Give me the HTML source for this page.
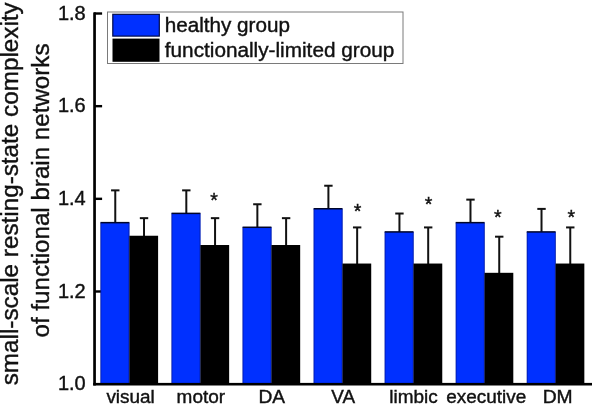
<!DOCTYPE html>
<html><head><meta charset="utf-8"><title>chart</title>
<style>
html,body{margin:0;padding:0;background:#fff;}
body{width:600px;height:413px;overflow:hidden;}
svg{display:block;will-change:transform;filter:blur(0.45px);}
text{font-family:"Liberation Sans",sans-serif;fill:#111;stroke:#111;stroke-width:0.4px;}
</style></head><body>
<svg width="600" height="413" viewBox="0 0 600 413">
<rect x="0" y="0" width="600" height="413" fill="#ffffff"/>

<rect x="94" y="290.29" width="8.1" height="2.4" fill="#000"/>
<rect x="94" y="197.63" width="8.1" height="2.4" fill="#000"/>
<rect x="94" y="104.97" width="8.1" height="2.4" fill="#000"/>
<rect x="94" y="12.31" width="8.1" height="2.4" fill="#000"/>
<line x1="115.27" y1="190.36" x2="115.27" y2="223.99" stroke="#111" stroke-width="2"/>
<line x1="111.07" y1="190.36" x2="119.47" y2="190.36" stroke="#111" stroke-width="2"/>
<line x1="144.03" y1="218.16" x2="144.03" y2="237.89" stroke="#111" stroke-width="2"/>
<line x1="139.83" y1="218.16" x2="148.22" y2="218.16" stroke="#111" stroke-width="2"/>
<rect x="100.70" y="222.64" width="28.65" height="161.51" fill="#0030ff"/>
<rect x="100.50" y="221.89" width="28.85" height="1.5" fill="#00062a"/>
<rect x="100.50" y="222.64" width="0.7" height="161.51" fill="#001590"/>
<rect x="128.65" y="222.64" width="0.7" height="161.51" fill="#001590"/>
<rect x="129.35" y="235.74" width="28.75" height="148.41" fill="#000"/>
<text x="106.40" y="403.1" font-size="18.3" textLength="48.40" lengthAdjust="spacingAndGlyphs">visual</text>
<line x1="186.31" y1="190.36" x2="186.31" y2="214.73" stroke="#111" stroke-width="2"/>
<line x1="182.12" y1="190.36" x2="190.51" y2="190.36" stroke="#111" stroke-width="2"/>
<line x1="215.06" y1="218.16" x2="215.06" y2="247.16" stroke="#111" stroke-width="2"/>
<line x1="210.87" y1="218.16" x2="219.26" y2="218.16" stroke="#111" stroke-width="2"/>
<rect x="171.74" y="213.38" width="28.65" height="170.77" fill="#0030ff"/>
<rect x="171.54" y="212.63" width="28.85" height="1.5" fill="#00062a"/>
<rect x="171.54" y="213.38" width="0.7" height="170.77" fill="#001590"/>
<rect x="199.69" y="213.38" width="0.7" height="170.77" fill="#001590"/>
<rect x="200.39" y="245.01" width="28.75" height="139.14" fill="#000"/>
<text x="214.00" y="207.30" font-size="19.6" text-anchor="middle">*</text>
<text x="176.60" y="403.1" font-size="18.3" textLength="48.50" lengthAdjust="spacingAndGlyphs">motor</text>
<line x1="257.36" y1="204.26" x2="257.36" y2="228.63" stroke="#111" stroke-width="2"/>
<line x1="253.16" y1="204.26" x2="261.56" y2="204.26" stroke="#111" stroke-width="2"/>
<line x1="286.11" y1="218.16" x2="286.11" y2="247.16" stroke="#111" stroke-width="2"/>
<line x1="281.91" y1="218.16" x2="290.31" y2="218.16" stroke="#111" stroke-width="2"/>
<rect x="242.78" y="227.28" width="28.65" height="156.87" fill="#0030ff"/>
<rect x="242.58" y="226.53" width="28.85" height="1.5" fill="#00062a"/>
<rect x="242.58" y="227.28" width="0.7" height="156.87" fill="#001590"/>
<rect x="270.73" y="227.28" width="0.7" height="156.87" fill="#001590"/>
<rect x="271.43" y="245.01" width="28.75" height="139.14" fill="#000"/>
<text x="258.50" y="403.1" font-size="18.3" textLength="26.60" lengthAdjust="spacingAndGlyphs">DA</text>
<line x1="328.40" y1="185.73" x2="328.40" y2="210.10" stroke="#111" stroke-width="2"/>
<line x1="324.20" y1="185.73" x2="332.60" y2="185.73" stroke="#111" stroke-width="2"/>
<line x1="357.15" y1="227.43" x2="357.15" y2="265.69" stroke="#111" stroke-width="2"/>
<line x1="352.95" y1="227.43" x2="361.35" y2="227.43" stroke="#111" stroke-width="2"/>
<rect x="313.82" y="208.75" width="28.65" height="175.40" fill="#0030ff"/>
<rect x="313.62" y="208.00" width="28.85" height="1.5" fill="#00062a"/>
<rect x="313.62" y="208.75" width="0.7" height="175.40" fill="#001590"/>
<rect x="341.77" y="208.75" width="0.7" height="175.40" fill="#001590"/>
<rect x="342.47" y="263.54" width="28.75" height="120.61" fill="#000"/>
<text x="357.60" y="217.70" font-size="19.6" text-anchor="middle">*</text>
<text x="331.20" y="403.1" font-size="18.3" textLength="23.80" lengthAdjust="spacingAndGlyphs">VA</text>
<line x1="399.44" y1="213.53" x2="399.44" y2="233.26" stroke="#111" stroke-width="2"/>
<line x1="395.24" y1="213.53" x2="403.63" y2="213.53" stroke="#111" stroke-width="2"/>
<line x1="428.19" y1="227.43" x2="428.19" y2="265.69" stroke="#111" stroke-width="2"/>
<line x1="423.99" y1="227.43" x2="432.38" y2="227.43" stroke="#111" stroke-width="2"/>
<rect x="384.86" y="231.91" width="28.65" height="152.24" fill="#0030ff"/>
<rect x="384.66" y="231.16" width="28.85" height="1.5" fill="#00062a"/>
<rect x="384.66" y="231.91" width="0.7" height="152.24" fill="#001590"/>
<rect x="412.81" y="231.91" width="0.7" height="152.24" fill="#001590"/>
<rect x="413.51" y="263.54" width="28.75" height="120.61" fill="#000"/>
<text x="428.50" y="211.00" font-size="19.6" text-anchor="middle">*</text>
<text x="389.30" y="403.1" font-size="18.3" textLength="48.50" lengthAdjust="spacingAndGlyphs">limbic</text>
<line x1="470.48" y1="199.63" x2="470.48" y2="223.99" stroke="#111" stroke-width="2"/>
<line x1="466.28" y1="199.63" x2="474.68" y2="199.63" stroke="#111" stroke-width="2"/>
<line x1="499.23" y1="236.69" x2="499.23" y2="274.96" stroke="#111" stroke-width="2"/>
<line x1="495.03" y1="236.69" x2="503.43" y2="236.69" stroke="#111" stroke-width="2"/>
<rect x="455.90" y="222.64" width="28.65" height="161.51" fill="#0030ff"/>
<rect x="455.70" y="221.89" width="28.85" height="1.5" fill="#00062a"/>
<rect x="455.70" y="222.64" width="0.7" height="161.51" fill="#001590"/>
<rect x="483.85" y="222.64" width="0.7" height="161.51" fill="#001590"/>
<rect x="484.55" y="272.81" width="28.75" height="111.34" fill="#000"/>
<text x="497.90" y="223.60" font-size="19.6" text-anchor="middle">*</text>
<text x="446.30" y="403.1" font-size="18.3" textLength="80.00" lengthAdjust="spacingAndGlyphs">executive</text>
<line x1="541.51" y1="208.90" x2="541.51" y2="233.26" stroke="#111" stroke-width="2"/>
<line x1="537.31" y1="208.90" x2="545.72" y2="208.90" stroke="#111" stroke-width="2"/>
<line x1="570.26" y1="227.43" x2="570.26" y2="265.69" stroke="#111" stroke-width="2"/>
<line x1="566.06" y1="227.43" x2="574.47" y2="227.43" stroke="#111" stroke-width="2"/>
<rect x="526.94" y="231.91" width="28.65" height="152.24" fill="#0030ff"/>
<rect x="526.74" y="231.16" width="28.85" height="1.5" fill="#00062a"/>
<rect x="526.74" y="231.91" width="0.7" height="152.24" fill="#001590"/>
<rect x="554.89" y="231.91" width="0.7" height="152.24" fill="#001590"/>
<rect x="555.59" y="263.54" width="28.75" height="120.61" fill="#000"/>
<text x="571.20" y="223.60" font-size="19.6" text-anchor="middle">*</text>
<text x="542.70" y="403.1" font-size="18.3" textLength="30.00" lengthAdjust="spacingAndGlyphs">DM</text>
<rect x="93.2" y="12.4" width="2.7" height="373.1" fill="#000"/>
<rect x="93.2" y="382.9" width="498.8" height="2.6" fill="#000"/>
<text x="57.9" y="390.45" font-size="19.4" textLength="27.8" lengthAdjust="spacingAndGlyphs">1.0</text>
<text x="57.9" y="297.79" font-size="19.4" textLength="27.8" lengthAdjust="spacingAndGlyphs">1.2</text>
<text x="57.9" y="205.13" font-size="19.4" textLength="27.8" lengthAdjust="spacingAndGlyphs">1.4</text>
<text x="57.9" y="112.47" font-size="19.4" textLength="27.8" lengthAdjust="spacingAndGlyphs">1.6</text>
<text x="57.9" y="19.81" font-size="19.4" textLength="27.8" lengthAdjust="spacingAndGlyphs">1.8</text>
<rect x="107.5" y="12" width="295.5" height="51.5" fill="#fff" stroke="#7a7a7a" stroke-width="1"/>
<rect x="112.8" y="14.3" width="46.5" height="21.8" fill="#0030ff" stroke="#000a48" stroke-width="1.2"/>
<rect x="112.5" y="38.6" width="47" height="23.2" fill="#000"/>
<text x="164.7" y="31.6" font-size="19.7" textLength="125.3" lengthAdjust="spacingAndGlyphs">healthy group</text>
<text x="164.8" y="56.9" font-size="20" textLength="229.5" lengthAdjust="spacingAndGlyphs">functionally-limited group</text>
<text transform="translate(18.1,385.3) rotate(-90)" font-size="24.2" textLength="383" lengthAdjust="spacingAndGlyphs">small-scale resting-state complexity</text>
<text transform="translate(48.8,337.5) rotate(-90)" font-size="24.2" textLength="294" lengthAdjust="spacingAndGlyphs">of functional brain networks</text>
</svg></body></html>
